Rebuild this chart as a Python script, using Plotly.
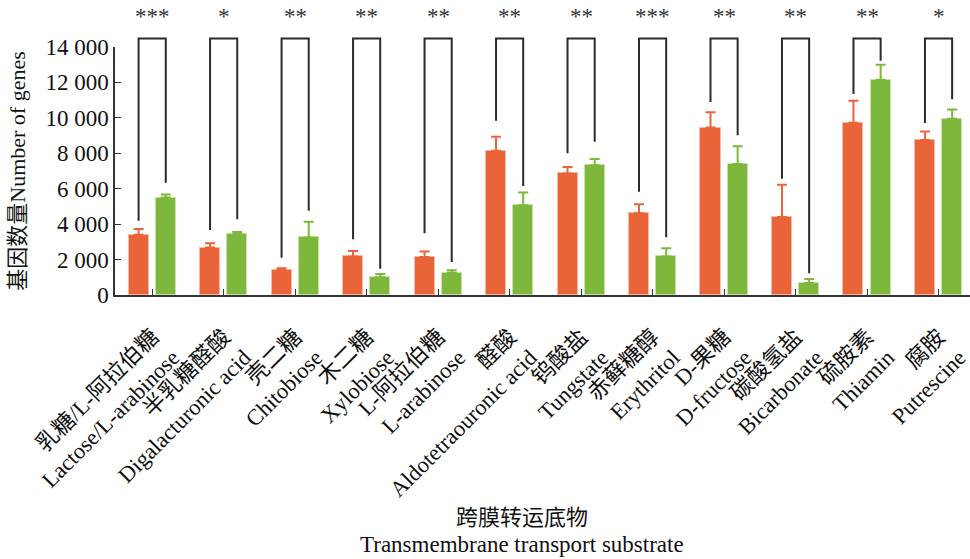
import plotly.graph_objects as go

categories = [
    "乳糖/L-阿拉伯糖<br>Lactose/L-arabinose",
    "半乳糖醛酸<br>Digalacturonic acid",
    "壳二糖<br>Chitobiose",
    "木二糖<br>Xylobiose",
    "L-阿拉伯糖<br>L-arabinose",
    "醛酸<br>Aldotetraouronic acid",
    "钨酸盐<br>Tungstate",
    "赤藓糖醇<br>Erythritol",
    "D-果糖<br>D-fructose",
    "碳酸氢盐<br>Bicarbonate",
    "硫胺素<br>Thiamin",
    "腐胺<br>Putrescine",
]
orange_values = [3400, 2680, 1400, 2180, 2150, 8150, 6860, 4620, 9450, 4400, 9730, 8750]
orange_err = [330, 240, 110, 300, 300, 790, 370, 500, 860, 1830, 1240, 480]
green_values = [5500, 3450, 3250, 1000, 1250, 5070, 7330, 2180, 7400, 680, 12150, 9950]
green_err = [180, 100, 880, 190, 150, 710, 350, 460, 1000, 220, 850, 520]
significance = ["***", "*", "**", "**", "**", "**", "**", "***", "**", "**", "**", "*"]
# bracket leg bottom ends (data units)
bracket_left_end = [4195, 3670, 2105, 3145, 3480, 9840, 8000, 5830, 10895, 6565, 11345, 9705]
bracket_right_end = [6340, 4270, 4760, 1485, 1860, 6150, 8655, 3255, 9015, 1225, 13225, 11045]
bracket_top = 14480
star_level = 15700
y_ticks = [0, 2000, 4000, 6000, 8000, 10000, 12000, 14000]
y_tick_text = ["0", "2 000", "4 000", "6 000", "8 000", "10 000", "12 000", "14 000"]
x_title_cn = "跨膜转运底物"
x_title_en = "Transmembrane transport substrate"
y_title = "基因数量Number of genes"
YMAX = 14000

ORANGE = "#EA643A"
GREEN = "#7DB83C"
FONT = "Liberation Serif, Times New Roman, Noto Sans CJK SC, serif"

x_idx = list(range(len(categories)))
BAR_OFF = 0.19
BAR_W = 0.28

fig = go.Figure()
fig.add_trace(go.Bar(
    x=x_idx, y=orange_values, width=BAR_W, offset=-BAR_OFF - BAR_W / 2,
    marker=dict(color=ORANGE, line=dict(color="#F6B9A4", width=1)),
    error_y=dict(type="data", array=orange_err, arrayminus=[0] * 12, symmetric=False,
                 color=ORANGE, thickness=2, width=5),
    showlegend=False,
))
fig.add_trace(go.Bar(
    x=x_idx, y=green_values, width=BAR_W, offset=BAR_OFF - BAR_W / 2,
    marker=dict(color=GREEN, line=dict(color="#C6E2A6", width=1)),
    error_y=dict(type="data", array=green_err, arrayminus=[0] * 12, symmetric=False,
                 color=GREEN, thickness=2, width=5),
    showlegend=False,
))

shapes = []
annotations = []
for i in x_idx:
    xl = i - BAR_OFF
    xr = i + BAR_OFF
    path = (f"M {xl} {bracket_left_end[i] / YMAX} L {xl} {bracket_top / YMAX} "
            f"L {xr} {bracket_top / YMAX} L {xr} {bracket_right_end[i] / YMAX}")
    shapes.append(dict(type="path", xref="x", yref="paper", path=path,
                       line=dict(color="#2E2A27", width=2)))
    annotations.append(dict(x=i, y=star_level / YMAX, xref="x", yref="paper",
                            text=significance[i], showarrow=False,
                            font=dict(family=FONT, size=23, color="#333333"),
                            yanchor="middle", xanchor="center"))

annotations.append(dict(x=0.476, y=-0.899, xref="paper", yref="paper",
                        text=x_title_cn, showarrow=False,
                        font=dict(family=FONT, size=22, color="#111111"),
                        xanchor="center", yanchor="middle"))
annotations.append(dict(x=0.476, y=-1.006, xref="paper", yref="paper",
                        text=x_title_en, showarrow=False,
                        font=dict(family=FONT, size=23, color="#111111"),
                        xanchor="center", yanchor="middle"))

fig.update_layout(
    width=970, height=559,
    margin=dict(l=115, r=0, t=47, b=264),
    plot_bgcolor="white", paper_bgcolor="white",
    font=dict(family=FONT, size=22, color="#111111"),
    shapes=shapes, annotations=annotations,
    bargap=0, bargroupgap=0,
)
fig.update_xaxes(
    range=[-0.52, 11.44], tickmode="array", tickvals=x_idx, ticktext=categories,
    tickangle=-45, ticks="inside", ticklen=6, tickcolor="#333333",
    showline=True, linecolor="#333333", linewidth=1.5,
    showgrid=False, zeroline=False, ticklabelstandoff=18,
    ticklabeloverflow="allow",
    tickfont=dict(family=FONT, size=22.5, color="#111111"),
)
fig.update_yaxes(
    range=[0, YMAX], tickmode="array", tickvals=y_ticks, ticktext=y_tick_text,
    ticks="inside", ticklen=6, tickcolor="#333333",
    showline=True, linecolor="#333333", linewidth=1.5,
    showgrid=False, zeroline=False,
    tickfont=dict(family=FONT, size=23, color="#111111"),
    title=dict(text=y_title, standoff=14,
               font=dict(family=FONT, size=22, color="#111111")),
)

fig.write_html("out.html")
